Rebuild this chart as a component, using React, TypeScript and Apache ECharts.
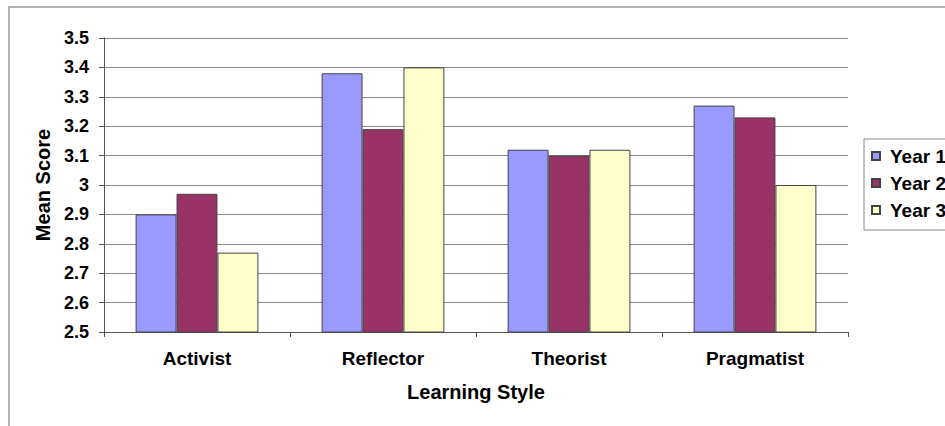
import React, { useEffect, useRef } from "react";
import * as echarts from "echarts";

const categories = ["Activist", "Reflector", "Theorist", "Pragmatist"];
const seriesNames = ["Year 1", "Year 2", "Year 3"];
const year1 = [2.9, 3.38, 3.12, 3.27];
const year2 = [2.97, 3.19, 3.1, 3.23];
const year3 = [2.77, 3.4, 3.12, 3.0];
const colors = ["#9999FF", "#993366", "#FFFFCC"];

const FONT = 'Arial, "Liberation Sans", sans-serif';

export default function App() {
  const ref = useRef<HTMLDivElement>(null);
  useEffect(() => {
    document.body.style.margin = "0";
    const chart = echarts.init(ref.current!, undefined, { renderer: "svg" });
    const values = [year1, year2, year3];
    chart.setOption({
      animation: false,
      backgroundColor: "#ffffff",
      textStyle: { fontFamily: FONT },
      graphic: [
        {
          type: "rect",
          shape: { x: 9, y: 7, width: 1200, height: 800 },
          style: { fill: "none", stroke: "#9a9a9a", lineWidth: 1.5 },
          silent: true,
        },
      ],
      grid: { left: 104, right: 97, top: 38, bottom: 94 },
      legend: {
        orient: "vertical",
        left: 864,
        top: 139,
        padding: [7, 30, 10, 7],
        itemGap: 7,
        itemWidth: 8,
        itemHeight: 8,
        icon: "rect",
        borderColor: "#888888",
        borderWidth: 1,
        backgroundColor: "#ffffff",
        textStyle: {
          fontFamily: FONT,
          fontWeight: "bold",
          fontSize: 19,
          color: "#000",
          lineHeight: 20,
          padding: [0, 0, 0, 5],
        },
        data: seriesNames,
      },
      xAxis: {
        type: "category",
        data: categories,
        name: "Learning Style",
        nameLocation: "middle",
        nameGap: 50,
        nameTextStyle: { fontFamily: FONT, fontWeight: "bold", fontSize: 20, color: "#000" },
        axisLine: { lineStyle: { color: "#555", width: 1 } },
        axisTick: { show: true, length: 5, lineStyle: { color: "#555" } },
        axisLabel: { fontFamily: FONT, fontWeight: "bold", fontSize: 19, color: "#000", margin: 17 },
      },
      yAxis: {
        type: "value",
        min: 2.5,
        max: 3.5,
        interval: 0.1,
        name: "Mean Score",
        nameLocation: "middle",
        nameGap: 51,
        nameRotate: 90,
        nameTextStyle: { fontFamily: FONT, fontWeight: "bold", fontSize: 20, color: "#000" },
        axisLine: { show: true, lineStyle: { color: "#555", width: 1 } },
        axisTick: { show: true, length: 5, lineStyle: { color: "#555" } },
        axisLabel: {
          fontFamily: FONT,
          fontWeight: "bold",
          fontSize: 18,
          color: "#000",
          margin: 15,
          formatter: (v: number) => String(Math.round(v * 10) / 10),
        },
        splitLine: { show: true, lineStyle: { color: "#888888", width: 1.2 } },
      },
      series: seriesNames.map((name, i) => ({
        name,
        type: "bar",
        data: values[i],
        barGap: "0%",
        barCategoryGap: "34%",
        itemStyle: { color: colors[i], borderColor: "#444", borderWidth: 1 },
      })),
    });
    return () => chart.dispose();
  }, []);
  return (
    <div
      ref={ref}
      style={{ position: "fixed", left: 0, top: 0, width: 945, height: 426 }}
    />
  );
}
